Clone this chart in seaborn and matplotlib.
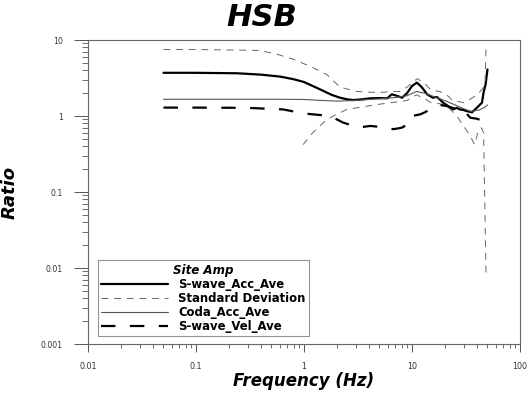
import numpy as np
import pandas as pd
import matplotlib
matplotlib.use("Agg")
import matplotlib.pyplot as plt
import seaborn as sns
from matplotlib.ticker import LogLocator, NullFormatter, FixedLocator, FixedFormatter

sns.set_theme(style="white")
plt.rcParams['font.family'] = ['DejaVu Sans']
plt.rcParams['text.color'] = 'black'
plt.rcParams['axes.labelcolor'] = 'black'

# ---- data ----
acc_f = [0.05, 0.1, 0.24, 0.4, 0.6, 0.8, 1.0, 1.4, 1.8, 2.15, 2.5, 2.84, 3.5, 4.1, 5.0, 5.9, 6.5, 7.2, 8.1, 9.0, 10.0, 11.1,
         12.3, 13.8, 15.6, 17.0, 18.0, 19.4, 21.6, 24.0, 26.0, 27.8, 30.0, 32.0, 36.0, 40.0, 44.5, 46.0, 48.0, 50.0]
acc_v = [3.7, 3.7, 3.65, 3.5, 3.3, 3.05, 2.8, 2.25, 1.9, 1.74, 1.66, 1.62, 1.66, 1.71, 1.72, 1.71, 1.93, 1.85, 1.74, 2.0, 2.48, 2.75,
         2.4, 1.93, 1.74, 1.78, 1.66, 1.5, 1.35, 1.22, 1.28, 1.22, 1.2, 1.16, 1.12, 1.29, 1.5, 2.05, 2.6, 4.1]

sd_up_f = [0.05, 0.1, 0.2, 0.39, 0.56, 0.79, 1.14, 1.63, 2.15, 3.1, 4.2, 5.4, 6.2, 7.7, 9.0, 10.2, 11.2, 13.0, 15.0, 18.0,
           21.0, 24.0, 27.0, 30.0, 34.5, 40.0, 44.5, 47.5, 48.5]
sd_up_v = [7.5, 7.5, 7.4, 7.3, 6.5, 5.6, 4.5, 3.5, 2.4, 2.1, 2.05, 2.05, 2.1, 2.1, 2.4, 2.8, 3.1, 2.7, 2.2, 2.1,
           1.9, 1.57, 1.55, 1.5, 1.66, 1.9, 2.25, 2.6, 8.2]

sd_lo_f = [0.98, 1.2, 1.63, 2.0, 2.5, 3.5, 5.0, 7.2, 9.0, 11.0, 13.0, 15.0, 18.0, 20.0, 23.0, 26.0, 30.0, 34.5, 38.0, 41.0, 44.0,
           46.0, 48.5]
sd_lo_v = [0.42, 0.6, 0.9, 1.05, 1.22, 1.32, 1.43, 1.53, 1.6, 1.9, 1.7, 1.5, 1.45, 1.4, 1.2, 1.0, 0.74, 0.55, 0.42, 0.63, 0.7,
           0.6, 0.0078]

coda_f = [0.05, 0.1, 0.3, 0.6, 1.0, 1.5, 2.0, 3.0, 4.0, 5.5, 7.0, 9.0, 11.0, 13.0, 16.0, 20.0, 25.0, 30.0, 35.0, 42.0, 47.0, 50.0]
coda_v = [1.66, 1.66, 1.66, 1.66, 1.65, 1.6, 1.57, 1.6, 1.65, 1.7, 1.75, 1.85, 2.1, 2.0, 1.8, 1.6, 1.4, 1.25, 1.15, 1.2, 1.3, 1.4]

vel_f = [0.05, 0.1, 0.3, 0.64, 1.0, 1.74, 2.3, 2.8, 3.3, 4.1, 5.0, 5.9, 6.7, 8.0, 9.2, 10.0, 11.9, 13.2, 15.0, 18.0, 21.0,
         25.0, 30.0, 34.6, 40.0, 45.5, 47.0, 49.5]
vel_v = [1.29, 1.29, 1.28, 1.22, 1.08, 1.0, 0.82, 0.75, 0.71, 0.74, 0.72, 0.71, 0.67, 0.7, 0.78, 1.0, 1.05, 1.12, 1.25, 1.4, 1.35,
         1.25, 1.2, 0.95, 0.92, 0.86, 0.8, 0.9]

legend_title = "Site Amp"
names = ["S-wave_Acc_Ave", "Standard Deviation", "Coda_Acc_Ave", "S-wave_Vel_Ave"]
x_ticks = [0.01, 0.1, 1, 10, 100]
x_labels = ["0.01", "0.1", "1", "10", "100"]
y_ticks = [0.001, 0.01, 0.1, 1, 10]
y_labels = ["0.001", "0.01", "0.1", "1", "10"]

fig = plt.figure(figsize=(5.3, 3.95), dpi=100)
ax = fig.add_axes([88/530, 1-344/395, 432/530, 304/395])

sns.lineplot(x=acc_f, y=acc_v, ax=ax, color="black", lw=1.6, estimator=None, sort=False, label=names[0])
sns.lineplot(x=sd_up_f, y=sd_up_v, ax=ax, color="#666666", lw=0.7, linestyle=(0, (7, 6)),
             estimator=None, sort=False, label=names[1])
sns.lineplot(x=sd_lo_f, y=sd_lo_v, ax=ax, color="#666666", lw=0.7, linestyle=(0, (7, 6)),
             estimator=None, sort=False)
sns.lineplot(x=coda_f, y=coda_v, ax=ax, color="#555555", lw=0.8, estimator=None, sort=False, label=names[2])
sns.lineplot(x=vel_f, y=vel_v, ax=ax, color="black", lw=1.6, linestyle=(0, (6.5, 6.5)),
             estimator=None, sort=False, label=names[3])

ax.set_xscale("log")
ax.set_yscale("log")
ax.set_xlim(0.01, 100)
ax.set_ylim(0.001, 10)

ax.xaxis.set_major_locator(FixedLocator(x_ticks))
ax.xaxis.set_major_formatter(FixedFormatter(x_labels))
ax.yaxis.set_major_locator(FixedLocator(y_ticks))
ax.yaxis.set_major_formatter(FixedFormatter(y_labels))
ax.xaxis.set_minor_locator(LogLocator(base=10, subs=np.arange(2, 10)))
ax.yaxis.set_minor_locator(LogLocator(base=10, subs=np.arange(2, 10)))
ax.xaxis.set_minor_formatter(NullFormatter())
ax.yaxis.set_minor_formatter(NullFormatter())

ax.tick_params(axis="x", which="major", direction="out", length=6, width=0.7, color="#555555",
               labelsize=5.8, labelcolor="#333333", pad=7, bottom=True)
ax.tick_params(axis="x", which="minor", direction="out", length=3.2, width=0.6, color="#555555", bottom=True)
ax.tick_params(axis="y", which="major", direction="out", length=10, width=0.7, color="#555555",
               labelsize=5.6, labelcolor="#333333", pad=8, left=True)
ax.tick_params(axis="y", which="minor", direction="out", length=4.5, width=0.6, color="#555555", left=True)

for s in ax.spines.values():
    s.set_color("#666666")
    s.set_linewidth(0.8)

ax.set_xlabel("Frequency (Hz)", fontsize=12, fontweight="bold", fontstyle="italic", labelpad=1, color="black")
ax.set_ylabel("Ratio", fontsize=13, fontweight="bold", fontstyle="italic", labelpad=16, color="black")
fig.text(0.493, 1-18/395, "HSB", ha="center", va="center", fontsize=22, fontweight="bold",
         fontstyle="italic", color="black")

leg = ax.legend(loc="lower left", bbox_to_anchor=(0.023, 0.026), frameon=True, fancybox=False,
                title=legend_title, fontsize=8.4, handlelength=5.7, handletextpad=0.9,
                labelspacing=0.08, borderpad=0.3, borderaxespad=0)
leg.get_frame().set_edgecolor("#777777")
leg.get_frame().set_linewidth(0.8)
leg.get_title().set_fontweight("bold")
leg.get_title().set_fontstyle("italic")
leg.get_title().set_fontsize(8.6)
leg.get_title().set_color("black")
for t in leg.get_texts():
    t.set_fontweight("bold")
    t.set_color("black")

fig.savefig("out.png", dpi=100)
